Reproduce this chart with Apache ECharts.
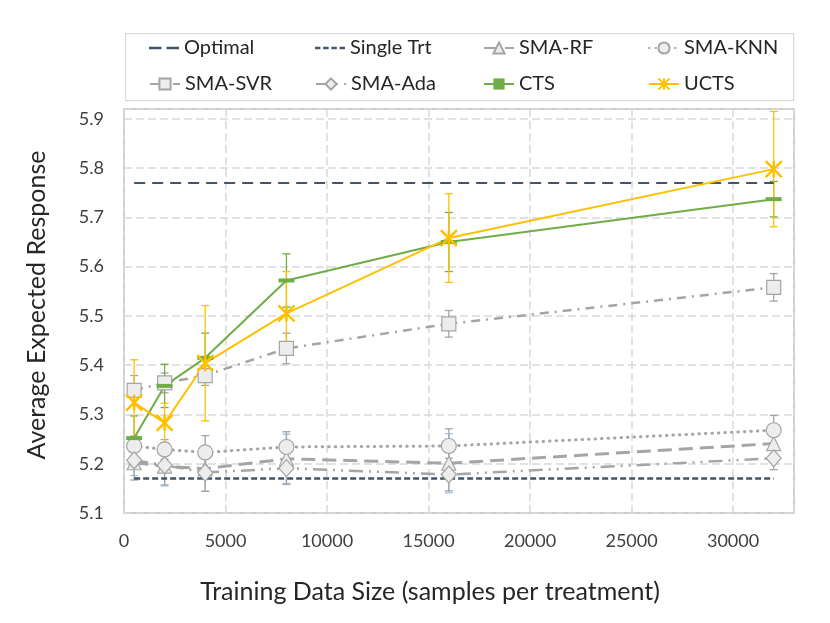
<!DOCTYPE html>
<html>
<head>
<meta charset="utf-8">
<script src="https://cdn.jsdelivr.net/npm/echarts@6/dist/echarts.min.js"></script>
<style>
  html, body { margin: 0; padding: 0; background: #fff; }
  #main { width: 830px; height: 623px; }
</style>
</head>
<body>
<div id="main"></div>
<script>
// training sizes (samples per treatment)
var sizes = [500, 2000, 4000, 8000, 16000, 32000];

var optimal   = [5.77, 5.77, 5.77, 5.77, 5.77, 5.77];
var singleTrt = [5.17, 5.17, 5.17, 5.17, 5.17, 5.17];
var smaRF     = [5.202, 5.195, 5.19, 5.21, 5.201, 5.241];
var smaKNN    = [5.236, 5.229, 5.223, 5.234, 5.236, 5.268];
var smaSVR    = [5.349, 5.364, 5.379, 5.434, 5.484, 5.558];
var smaAda    = [5.207, 5.197, 5.182, 5.191, 5.178, 5.211];
var cts       = [5.252, 5.358, 5.415, 5.572, 5.65, 5.737];
var ucts      = [5.324, 5.283, 5.404, 5.505, 5.658, 5.798];

// error bar half widths
var rfErr   = [0.026, 0.04, 0.046, 0.05, 0.06, 0.02];
var knnErr  = [0.02, 0.02, 0.034, 0.031, 0.035, 0.03];
var svrErr  = [0.03, 0.02, 0.02, 0.031, 0.027, 0.028];
var adaErr  = [0.04, 0.04, 0.038, 0.033, 0.033, 0.023];
var ctsErr  = [0.045, 0.044, 0.05, 0.054, 0.06, 0.036];
var uctsErr = [0.087, 0.04, 0.117, 0.085, 0.09, 0.117];

var FONT = 'Lato';
var GRAY = '#A5A5A5';
var DARK = '#44546A';

function pairs(ys) {
  return sizes.map(function (x, i) { return [x, ys[i]]; });
}
function errPairs(ys, err) {
  return sizes.map(function (x, i) { return [x, ys[i] - err[i], ys[i] + err[i]]; });
}
function errRender(color) {
  return function (params, api) {
    var x = api.value(0);
    var top = api.coord([x, api.value(2)]);
    var bot = api.coord([x, api.value(1)]);
    var w = 4;
    var st = { stroke: color, lineWidth: 1.3 };
    return {
      type: 'group',
      children: [
        { type: 'line', shape: { x1: top[0], y1: top[1], x2: bot[0], y2: bot[1] }, style: st },
        { type: 'line', shape: { x1: top[0] - w, y1: top[1], x2: top[0] + w, y2: top[1] }, style: st },
        { type: 'line', shape: { x1: bot[0] - w, y1: bot[1], x2: bot[0] + w, y2: bot[1] }, style: st }
      ]
    };
  };
}
function errSeries(name, ys, err, color) {
  return {
    name: name + ' err', type: 'custom', silent: true,
    renderItem: errRender(color),
    encode: { x: 0, y: [1, 2] },
    data: errPairs(ys, err)
  };
}
function graySeries(name, ys, symbol, size, dash, width, cap) {
  return {
    name: name, type: 'line', data: pairs(ys),
    symbol: symbol, symbolSize: size, showAllSymbol: true,
    itemStyle: { color: '#EDEDED', borderColor: GRAY, borderWidth: 1.2 },
    lineStyle: { color: GRAY, width: width, type: dash, cap: cap || 'butt' }
  };
}

var series = [
  errSeries('SMA-RF', smaRF, rfErr, '#9DC3E6'),
  errSeries('SMA-KNN', smaKNN, knnErr, GRAY),
  errSeries('SMA-SVR', smaSVR, svrErr, GRAY),
  errSeries('SMA-Ada', smaAda, adaErr, GRAY),
  {
    name: 'Optimal', type: 'line', data: pairs(optimal), symbol: 'none',
    itemStyle: { color: DARK },
    lineStyle: { color: DARK, width: 2, type: [11, 7] }
  },
  {
    name: 'Single Trt', type: 'line', data: pairs(singleTrt), symbol: 'none',
    itemStyle: { color: DARK },
    lineStyle: { color: DARK, width: 2.5, type: [6, 3] }
  },
  graySeries('SMA-RF', smaRF, 'triangle', [14, 14], [14, 7], 3),
  graySeries('SMA-KNN', smaKNN, 'circle', 15, [0.5, 6], 3, 'round'),
  graySeries('SMA-SVR', smaSVR, 'rect', 14, [9, 6, 2, 6], 2.5),
  graySeries('SMA-Ada', smaAda, 'diamond', [15, 17], [14, 6, 2, 6, 2, 6], 2.5),
  errSeries('CTS', cts, ctsErr, '#70AD47'),
  {
    name: 'CTS', type: 'line', data: pairs(cts),
    symbol: 'rect', symbolSize: [16, 4], showAllSymbol: true,
    itemStyle: { color: '#70AD47' },
    lineStyle: { color: '#70AD47', width: 2 }
  },
  errSeries('UCTS', ucts, uctsErr, '#FFC000'),
  {
    name: 'UCTS', type: 'line', data: pairs(ucts),
    symbol: 'path://M0,0L10,10M10,0L0,10M5,0L5,10', symbolSize: 16, showAllSymbol: true,
    itemStyle: { color: '#FFC000', borderColor: '#FFC000', borderWidth: 2.5 },
    lineStyle: { color: '#FFC000', width: 2 }
  }
];

// dashed-line icons for the two reference lines
var legendIcons = {
  'Optimal': 'path://M0,0h10v2h-10zM14,0h10v2h-10z',
  'Single Trt': 'path://M0,0h5v2.4h-5zM7.5,0h5v2.4h-5zM15,0h5v2.4h-5zM22.5,0h5v2.4h-5z'
};
var legendNames = ['Optimal', 'Single Trt', 'SMA-RF', 'SMA-KNN', 'SMA-SVR', 'SMA-Ada', 'CTS', 'UCTS'];
var legendLeft = [149, 315, 483, 648];
var legendTop = [38, 74];
var legends = legendNames.map(function (n, i) {
  var item = legendIcons[n] ? { name: n, icon: legendIcons[n] } : n;
  return {
    data: [item], left: legendLeft[i % 4], top: legendTop[Math.floor(i / 4)],
    padding: 0, itemWidth: 30, itemHeight: 14, selectedMode: false,
    textStyle: { fontFamily: FONT, fontSize: 20, color: '#262626' }
  };
});

var chart = echarts.init(document.getElementById('main'), null, { renderer: 'canvas' });

var option = {
  backgroundColor: '#fff',
  animation: false,
  legend: legends,
  graphic: [{
    type: 'rect', left: 125, top: 33, z: -1,
    shape: { width: 668, height: 67 },
    style: { fill: '#fff', stroke: '#D9D9D9', lineWidth: 1.2 }
  }],
  grid: {
    left: 124, right: 36, top: 109, bottom: 110,
    show: true, borderColor: '#BFBFBF', borderWidth: 1.5
  },
  xAxis: {
    type: 'value', min: 0, max: 33000, interval: 5000,
    name: 'Training Data Size (samples per treatment)',
    nameLocation: 'middle', nameGap: 66,
    nameTextStyle: { fontFamily: FONT, fontSize: 25, color: '#262626', padding: [0, 58, 0, 0] },
    axisLine: { show: false },
    axisTick: { show: false },
    axisLabel: {
      fontFamily: FONT, fontSize: 18, color: '#404040', margin: 19, showMaxLabel: false,
      formatter: function (v) { return String(v); }
    },
    splitLine: { show: true, lineStyle: { color: '#D9D9D9', width: 1.5, type: [8, 4] } }
  },
  yAxis: {
    type: 'value', min: 5.1, max: 5.92, interval: 0.1,
    name: 'Average Expected Response',
    nameLocation: 'middle', nameGap: 75,
    nameTextStyle: { fontFamily: FONT, fontSize: 25, color: '#262626', padding: [0, 0, 0, 12] },
    axisLine: { show: false },
    axisTick: { show: false },
    axisLabel: {
      fontFamily: FONT, fontSize: 18, color: '#404040', margin: 20, showMaxLabel: false,
      formatter: function (v) { return v.toFixed(1); }
    },
    splitLine: { show: true, lineStyle: { color: '#D9D9D9', width: 1.5, type: [8, 4] } }
  },
  series: series
};

chart.setOption(option);
</script>
</body>
</html>
